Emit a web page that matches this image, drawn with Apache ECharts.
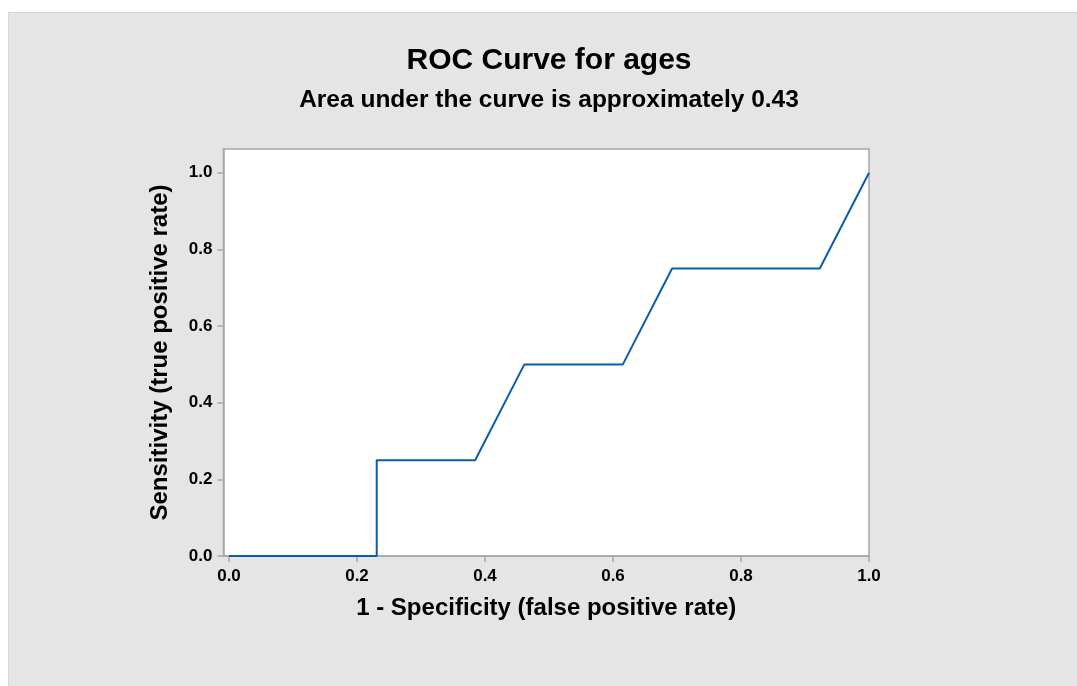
<!DOCTYPE html>
<html>
<head>
<meta charset="utf-8">
<script src="https://cdn.jsdelivr.net/npm/echarts@6/dist/echarts.min.js"></script>
<style>
html,body{margin:0;padding:0;background:#ffffff;}
#chart{width:1077px;height:686px;}
</style>
</head>
<body>
<div id="chart"></div>
<script>
const titleText = "ROC Curve for ages";
const subtitleText = "Area under the curve is approximately 0.43";
const xName = "1 - Specificity (false positive rate)";
const yName = "Sensitivity (true positive rate)";
const fpr = [0, 0.2308, 0.2308, 0.3846, 0.4615, 0.6154, 0.6923, 0.9231, 1.0];
const tpr = [0, 0, 0.25, 0.25, 0.5, 0.5, 0.75, 0.75, 1.0];
const tickValues = [0, 0.2, 0.4, 0.6, 0.8, 1.0];

const chart = echarts.init(document.getElementById('chart'), null, {renderer: 'canvas'});
const font = "'Liberation Sans', Arial, sans-serif";
const points = fpr.map((x, i) => [x, tpr[i]]);

chart.setOption({
  backgroundColor: 'transparent',
  animation: false,
  graphic: [{
    type: 'rect', z: -10, silent: true,
    shape: {x: 8.5, y: 12.5, width: 1080, height: 690},
    style: {fill: '#e5e5e5', stroke: '#d6d6d6', lineWidth: 1}
  }, {
    type: 'text', silent: true, x: 549, y: 61,
    style: {text: titleText, textAlign: 'center', textVerticalAlign: 'middle',
      font: "bold 30px 'Liberation Sans', Arial, sans-serif", fill: '#000'}
  }, {
    type: 'text', silent: true, x: 549, y: 100,
    style: {text: subtitleText, textAlign: 'center', textVerticalAlign: 'middle',
      font: "bold 24.5px 'Liberation Sans', Arial, sans-serif", fill: '#000'}
  }],
  grid: {
    left: 223.5, top: 149, width: 645.5, height: 407,
    show: true, backgroundColor: '#ffffff', borderColor: '#a6a6a6', borderWidth: 1.5,
    containLabel: false
  },
  xAxis: {
    type: 'value', min: -0.0086, max: 1,
    name: xName, nameLocation: 'middle', nameGap: 40,
    nameTextStyle: {fontFamily: font, fontSize: 24, fontWeight: 'bold', color: '#000'},
    axisLine: {show: true, onZero: false, lineStyle: {color: '#a6a6a6', width: 1.5}},
    axisTick: {show: true, length: 6, lineStyle: {color: '#a6a6a6', width: 1.5}, customValues: tickValues},
    axisLabel: {customValues: tickValues, margin: 12, fontFamily: font, fontSize: 17, fontWeight: 'bold', color: '#000',
      formatter: v => v.toFixed(1)},
    splitLine: {show: false}
  },
  yAxis: {
    type: 'value', min: 0, max: 1.062,
    name: yName, nameLocation: 'middle', nameGap: 51,
    nameTextStyle: {fontFamily: font, fontSize: 24, fontWeight: 'bold', color: '#000'},
    axisLine: {show: true, onZero: false, lineStyle: {color: '#a6a6a6', width: 1.5}},
    axisTick: {show: true, length: 6, lineStyle: {color: '#a6a6a6', width: 1.5}, customValues: tickValues},
    axisLabel: {customValues: tickValues, margin: 11, fontFamily: font, fontSize: 17, fontWeight: 'bold', color: '#000',
      formatter: v => v.toFixed(1)},
    splitLine: {show: false}
  },
  series: [{
    type: 'line',
    data: points,
    showSymbol: false,
    symbol: 'none',
    lineStyle: {color: '#0b5cad', width: 2},
    clip: false,
    z: 5
  }]
});
</script>
</body>
</html>
